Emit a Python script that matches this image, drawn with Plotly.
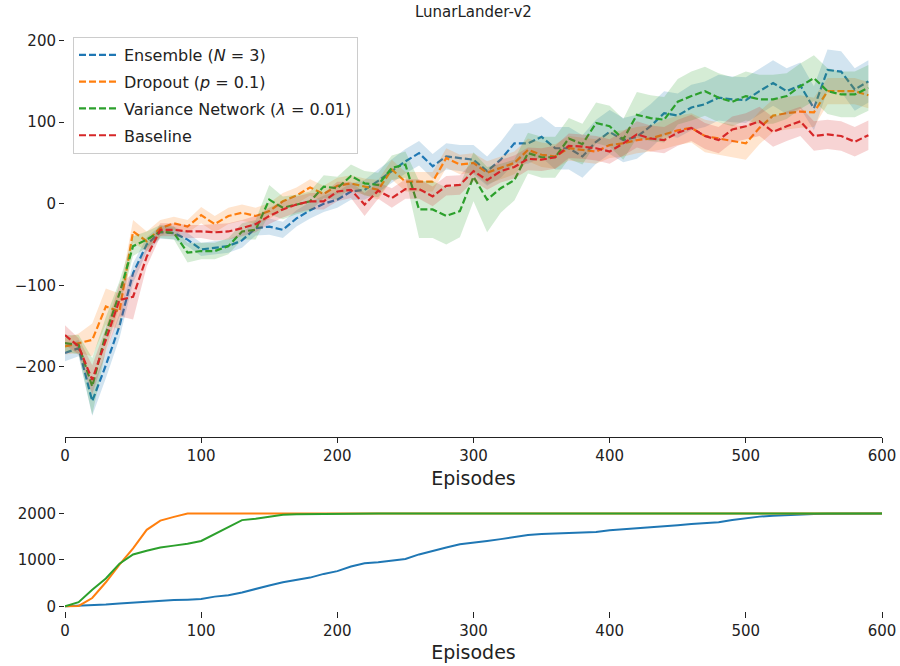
import plotly.graph_objects as go

# ---- evaluation returns every 10 episodes ----
episodes = [0, 10, 20, 30, 40, 50, 60, 70, 80, 90, 100, 110, 120, 130, 140, 150, 160, 170, 180, 190,
            200, 210, 220, 230, 240, 250, 260, 270, 280, 290, 300, 310, 320, 330, 340, 350, 360, 370, 380, 390,
            400, 410, 420, 430, 440, 450, 460, 470, 480, 490, 500, 510, 520, 530, 540, 550, 560, 570, 580, 590]

ensemble_mean = [-183, -177, -242, -198, -150, -85, -50, -35, -36, -44, -56, -54, -52, -45, -30, -28, -32, -18, -8, 0,
                 5, 15, 17, 28, 40, 52, 62, 46, 58, 56, 54, 40, 54, 74, 74, 82, 68, 68, 58, 76,
                 88, 78, 82, 95, 111, 108, 118, 122, 130, 128, 127, 138, 148, 138, 145, 117, 164, 162, 140, 150]
ensemble_sd = [10, 10, 18, 16, 15, 12, 9, 8, 8, 8, 8, 8, 8, 9, 9, 10, 10, 10, 10, 10,
               10, 10, 12, 14, 15, 15, 15, 15, 16, 16, 18, 18, 22, 24, 25, 25, 26, 26, 26, 27,
               27, 27, 27, 27, 27, 27, 28, 28, 28, 28, 28, 28, 28, 28, 28, 27, 25, 25, 26, 26]

dropout_mean = [-175, -171, -167, -126, -132, -34, -46, -30, -24, -28, -14, -25, -15, -11, -15, -9, 3, 10, 20, 12,
                22, 25, 21, 17, 42, 27, 27, 27, 56, 48, 50, 38, 44, 50, 66, 60, 58, 68, 66, 64,
                72, 74, 78, 80, 85, 90, 93, 83, 80, 77, 74, 93, 108, 111, 113, 112, 138, 138, 138, 133]
dropout_sd = [10, 12, 20, 22, 22, 14, 12, 10, 8, 8, 10, 10, 10, 10, 10, 10, 10, 10, 10, 10,
              10, 10, 10, 12, 12, 12, 12, 12, 12, 12, 12, 14, 14, 14, 14, 15, 15, 15, 15, 15,
              16, 16, 16, 16, 18, 18, 18, 20, 20, 20, 20, 20, 20, 20, 20, 18, 16, 16, 16, 16]

variance_mean = [-171, -173, -224, -159, -110, -52, -44, -34, -36, -60, -58, -58, -52, -34, -32, 5, -5, -1, 3, 21,
                 19, 34, 25, 23, 44, 48, -7, -7, -15, -9, 33, 5, 19, 29, 62, 57, 57, 80, 73, 99,
                 95, 79, 109, 105, 103, 125, 132, 138, 130, 125, 132, 128, 128, 132, 144, 154, 138, 134, 134, 142]
variance_sd = [10, 12, 35, 20, 15, 12, 10, 8, 8, 12, 10, 10, 10, 10, 12, 18, 14, 12, 12, 14,
               14, 14, 15, 15, 15, 16, 35, 35, 35, 32, 30, 40, 30, 25, 25, 25, 25, 25, 25, 25,
               25, 25, 28, 28, 28, 28, 30, 30, 30, 30, 30, 30, 30, 28, 28, 28, 28, 28, 28, 28]

baseline_mean = [-161, -175, -216, -167, -118, -114, -65, -32, -32, -34, -34, -35, -34, -30, -25, -15, -7, -1, 3, 3,
                 15, 17, -1, 16, 7, 18, 18, 9, 22, 23, 40, 29, 40, 45, 55, 54, 57, 71, 70, 68,
                 64, 74, 85, 80, 78, 87, 93, 83, 78, 91, 95, 101, 88, 95, 101, 83, 85, 83, 76, 84]
baseline_sd = [12, 10, 18, 15, 20, 28, 12, 8, 8, 8, 8, 10, 10, 10, 10, 10, 10, 10, 10, 10,
               12, 10, 14, 10, 12, 12, 12, 12, 12, 12, 12, 12, 14, 14, 14, 14, 14, 15, 15, 15,
               15, 15, 16, 16, 16, 16, 16, 16, 16, 16, 16, 18, 18, 18, 18, 18, 18, 18, 18, 18]

# ---- cumulative count per method (lower panel) ----
count_episodes = [0, 10, 20, 30, 40, 50, 60, 70, 80, 90, 100, 110, 120, 130, 140, 150, 160, 170, 180, 190,
                  200, 210, 220, 230, 240, 250, 260, 270, 280, 290, 300, 310, 320, 330, 340, 350, 360, 370, 380, 390,
                  400, 410, 420, 430, 440, 450, 460, 470, 480, 490, 500, 510, 520, 530, 540, 550, 560, 570, 580, 590, 600]
ensemble_count = [0, 10, 25, 40, 60, 80, 110, 125, 135, 145, 160, 210, 240, 300, 380, 450, 520, 570, 620, 700,
                  760, 860, 930, 950, 990, 1020, 1120, 1200, 1270, 1340, 1370, 1410, 1450, 1490, 1540, 1560, 1575, 1585, 1595, 1605,
                  1640, 1660, 1680, 1695, 1725, 1750, 1775, 1795, 1815, 1860, 1900, 1935, 1955, 1970, 1980, 1990, 1995, 1998, 2000, 2000, 2000]
dropout_count = [0, 10, 180, 520, 900, 1250, 1650, 1850, 1930, 2000, 2000, 2000, 2000, 2000, 2000, 2000, 2000, 2000, 2000, 2000,
                 2000, 2000, 2000, 2000, 2000, 2000, 2000, 2000, 2000, 2000, 2000, 2000, 2000, 2000, 2000, 2000, 2000, 2000, 2000, 2000,
                 2000, 2000, 2000, 2000, 2000, 2000, 2000, 2000, 2000, 2000, 2000, 2000, 2000, 2000, 2000, 2000, 2000, 2000, 2000, 2000, 2000]
variance_count = [0, 90, 360, 600, 920, 1120, 1200, 1270, 1310, 1350, 1410, 1560, 1700, 1860, 1890, 1940, 1975, 1985, 1990, 1990,
                  1990, 1995, 2000, 2000, 2000, 2000, 2000, 2000, 2000, 2000, 2000, 2000, 2000, 2000, 2000, 2000, 2000, 2000, 2000, 2000,
                  2000, 2000, 2000, 2000, 2000, 2000, 2000, 2000, 2000, 2000, 2000, 2000, 2000, 2000, 2000, 2000, 2000, 2000, 2000, 2000, 2000]

series = [
    ("Ensemble (<i>N</i> = 3)", ensemble_mean, ensemble_sd, "#1f77b4", "rgba(31,119,180,0.2)"),
    ("Dropout (<i>p</i> = 0.1)", dropout_mean, dropout_sd, "#ff7f0e", "rgba(255,127,14,0.2)"),
    ("Variance Network (<i>λ</i> = 0.01)", variance_mean, variance_sd, "#2ca02c", "rgba(44,160,44,0.2)"),
    ("Baseline", baseline_mean, baseline_sd, "#d62728", "rgba(214,39,40,0.2)"),
]

fig = go.Figure()

for k, (name, mean, sd, color, fill) in enumerate(series):
    upper = [m + s for m, s in zip(mean, sd)]
    lower = [m - s for m, s in zip(mean, sd)]
    fig.add_trace(go.Scatter(
        x=episodes + episodes[::-1], y=upper + lower[::-1],
        fill="toself", fillcolor=fill, line=dict(width=0), mode="lines",
        hoverinfo="skip", showlegend=False, xaxis="x", yaxis="y"))
    fig.add_trace(go.Scatter(
        x=episodes, y=mean, mode="lines", name=name, legendgroup=f"g{k}",
        line=dict(color=color, width=2.2, dash="7px,3px"), xaxis="x", yaxis="y"))

counts = [(ensemble_count, "#1f77b4"), (dropout_count, "#ff7f0e"), (variance_count, "#2ca02c")]
for vals, color in counts:
    fig.add_trace(go.Scatter(
        x=count_episodes, y=vals, mode="lines", line=dict(color=color, width=2),
        showlegend=False, xaxis="x2", yaxis="y2"))

tick_font = dict(family="DejaVu Sans", size=15, color="#222222")
title_font = dict(family="DejaVu Sans", size=19, color="#222222")

fig.update_layout(
    width=900, height=666,
    margin=dict(l=65, r=18, t=30, b=55, autoexpand=False),
    paper_bgcolor="white", plot_bgcolor="white",
    font=dict(family="DejaVu Sans", color="#222222"),
    title=dict(text="LunarLander-v2", x=0.526, xanchor="center", y=0.982, yanchor="middle",
               font=dict(family="DejaVu Sans", size=15, color="#222222")),
    xaxis=dict(domain=[0, 1], range=[0, 600], tickvals=[0, 100, 200, 300, 400, 500, 600],
               showgrid=False, zeroline=False, showline=True, linecolor="#222222", linewidth=1.2,
               ticks="outside", ticklen=5, tickcolor="#222222", tickfont=tick_font,
               title=dict(text="Episodes", font=title_font, standoff=7), anchor="y"),
    yaxis=dict(domain=[0.2995, 1], range=[-286, 213], tickvals=[-200, -100, 0, 100, 200],
               showgrid=False, zeroline=False, showline=False,
               ticks="outside", ticklen=5, tickcolor="#222222", tickfont=tick_font, anchor="x"),
    xaxis2=dict(domain=[0, 1], range=[0, 600], tickvals=[0, 100, 200, 300, 400, 500, 600],
                showgrid=False, zeroline=False, showline=False,
                ticks="outside", ticklen=6, tickcolor="#222222", tickfont=tick_font,
                title=dict(text="Episodes", font=title_font, standoff=6), anchor="y2"),
    yaxis2=dict(domain=[0, 0.1756], range=[-100, 2100], tickvals=[0, 1000, 2000],
                showgrid=False, zeroline=False, showline=False,
                ticks="outside", ticklen=5, tickcolor="#222222", tickfont=tick_font, anchor="x2"),
    legend=dict(x=0.0098, y=0.988, xanchor="left", yanchor="top",
                bgcolor="rgba(255,255,255,0.8)", bordercolor="#cccccc", borderwidth=1,
                font=dict(family="DejaVu Sans", size=16, color="#222222"),
                itemwidth=40, traceorder="grouped", tracegroupgap=3),
)

fig.write_html("out.html")
